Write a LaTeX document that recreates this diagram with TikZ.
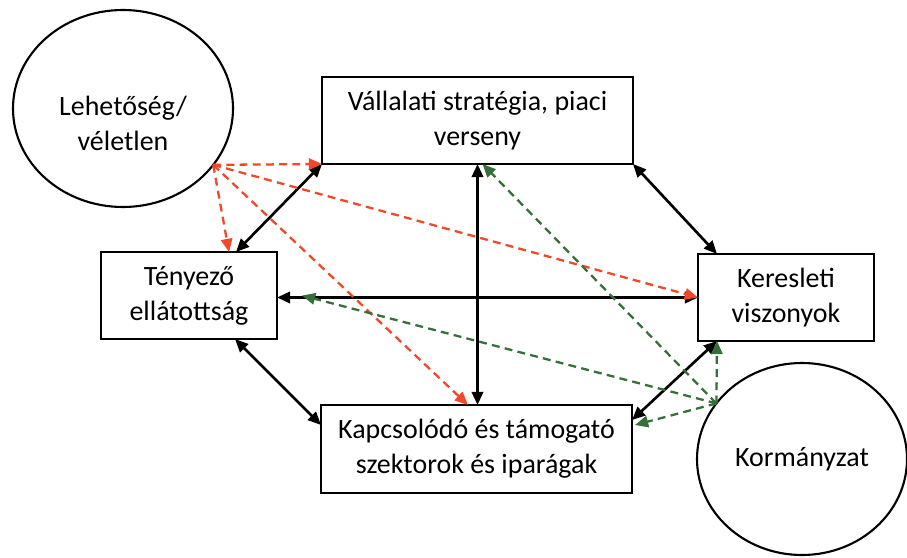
\documentclass[tikz,border=0pt]{standalone}
\usepackage{fontspec}
\setmainfont{Carlito}
\usetikzlibrary{arrows.meta,shapes.geometric}
\definecolor{chancered}{RGB}{240,72,40}
\definecolor{govgreen}{RGB}{52,112,56}

\begin{document}
\begin{tikzpicture}[>={Triangle[length=7.5pt,width=6.5pt]}]
	\tikzstyle{every node}=[font=\fontsize{15.9}{20}\selectfont, align=center, outer sep=0pt]
	\tikzstyle{box}=[draw, line width=1.2pt, rectangle, minimum height=1.74cm]
	\tikzstyle{blob}=[draw, line width=1.2pt, ellipse, inner sep=0pt]
	\tikzstyle{link}=[<->, line width=1.5pt]
	\tikzstyle{chance}=[->, chancered, line width=1.3pt, dash pattern=on 4.5pt off 3pt]
	\tikzstyle{gov}=[->, govgreen, line width=1.3pt, dash pattern=on 4.5pt off 3pt]
	\useasboundingbox (0,0) rectangle (18.14,11.14);
	\draw (2.46,8.97) node (leh) [blob, minimum width=4.4cm, minimum height=3.94cm] {};
	\draw (2.46,8.68) node (lehtext) {Lehetőség/\\véletlen};
	\draw (16.04,1.96) node (korm) [blob, minimum width=4.2cm, minimum height=3.84cm] {Kormányzat};
	\draw (9.55,8.73) node (val) [box, minimum width=6.22cm] {Vállalati stratégia, piaci\\verseny};
	\draw (3.78,5.23) node (teny) [box, minimum width=3.52cm] {Tényező\\ellátottság};
	\draw (15.72,5.19) node (ker) [box, minimum width=3.52cm] {Keresleti\\viszonyok};
	\draw (9.53,2.16) node (kap) [box, minimum width=6.22cm, minimum height=1.76cm] {Kapcsolódó és támogató\\szektorok és iparágak};
	% black links of the diamond
	\draw[link] (val.south west) -- ([xshift=0.94cm]teny.north);
	\draw[link] (val.south east) -- ([xshift=0.38cm]ker.north west);
	\draw[link] ([xshift=0.92cm]teny.south) -- ([yshift=-0.4cm]kap.north west);
	\draw[link] ([xshift=0.38cm]ker.south west) -- ([yshift=-0.3cm]kap.north east);
	\draw[link] (val.south) -- (val.south |- kap.north);
	\draw[link] (ker.west) -- (teny.east |- ker.west);
	% chance
	\draw[chance] (leh.-32) -- (val.south west);
	\draw[chance] (leh.-32) -- ([xshift=0.8cm]teny.north);
	\draw[chance] (leh.-32) -- (ker.west);
	\draw[chance] (leh.-32) -- ([xshift=-0.17cm]kap.north);
	% government
	\draw[gov] (korm.147) -- ([xshift=0.1cm]val.south);
	\draw[gov] (korm.147) -- ([xshift=0.5cm]teny.east);
	\draw[gov] (korm.147) -- ([xshift=0.38cm]ker.south west);
	\draw[gov] (korm.147) -- ([xshift=0.06cm,yshift=-0.4cm]kap.north east);
\end{tikzpicture}
\end{document}
